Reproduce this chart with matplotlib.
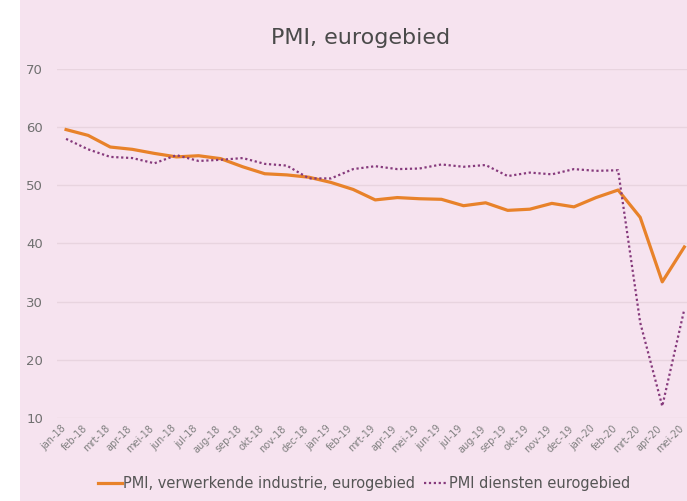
import matplotlib.pyplot as plt
from matplotlib.patches import Rectangle
import numpy as np

months = ['jan-18', 'feb-18', 'mrt-18', 'apr-18', 'mei-18', 'jun-18', 'jul-18', 'aug-18',
          'sep-18', 'okt-18', 'nov-18', 'dec-18', 'jan-19', 'feb-19', 'mrt-19', 'apr-19',
          'mei-19', 'jun-19', 'jul-19', 'aug-19', 'sep-19', 'okt-19', 'nov-19', 'dec-19',
          'jan-20', 'feb-20', 'mrt-20', 'apr-20', 'mei-20']
industrie = [59.6, 58.6, 56.6, 56.2, 55.5, 54.9, 55.1, 54.6, 53.2, 52.0, 51.8, 51.4,
             50.5, 49.3, 47.5, 47.9, 47.7, 47.6, 46.5, 47.0, 45.7, 45.9, 46.9, 46.3,
             47.9, 49.2, 44.5, 33.4, 39.4]
diensten = [58.0, 56.2, 54.9, 54.7, 53.8, 55.2, 54.2, 54.4, 54.7, 53.7, 53.4, 51.2,
            51.2, 52.8, 53.3, 52.8, 52.9, 53.6, 53.2, 53.5, 51.6, 52.2, 51.9, 52.8,
            52.5, 52.6, 26.4, 12.0, 28.7]

bg = '#f6e3ef'
fig = plt.figure(figsize=(6.87, 5.01), dpi=100, facecolor=bg)
# white strip at left edge, like the scanned original
fig.patches.append(Rectangle((0, 0), 20 / 687, 1, transform=fig.transFigure,
                             facecolor='white', edgecolor='none', zorder=-1))
ax = fig.add_axes([0.083, 0.166, 0.917, 0.696])
ax.set_facecolor(bg)

x = np.arange(len(months))
ax.plot(x, industrie, color='#e8822a', linewidth=2.3, label='PMI, verwerkende industrie, eurogebied')
ax.plot(x, diensten, color='#863a7c', linewidth=1.6, linestyle=(0, (1, 1.2)),
        label='PMI diensten eurogebied')

ax.set_ylim(10, 70)
ax.set_xlim(-0.41, 28.12)
ax.set_yticks(range(10, 71, 10))
ax.set_xticks(x)
ax.set_xticklabels([])
# month labels, nudged left so the rotated text ends under its tick
for i, m in enumerate(months):
    ax.annotate(m, xy=(i, 0), xycoords=ax.get_xaxis_transform(), xytext=(-4, -4),
                textcoords='offset points', rotation=45, ha='right', va='top',
                rotation_mode='anchor', fontsize=7, color='#808080')
ax.tick_params(axis='y', labelsize=9.5, colors='#707070', length=0, pad=10)
ax.tick_params(axis='x', length=0)
ax.grid(axis='y', color='#e8d4df', linewidth=1)
ax.set_axisbelow(True)
for s in ax.spines.values():
    s.set_visible(False)

fig.text(0.525, 0.925, 'PMI, eurogebied', ha='center', va='center', fontsize=16, color='#4a4a4a')
fig.legend(loc='center', bbox_to_anchor=(0.53, 0.035), ncol=2, frameon=False, fontsize=10.5,
           handlelength=1.6, handletextpad=0.1, columnspacing=0.6, labelcolor='#555555')

fig.savefig('out.png', dpi=100, facecolor=bg)
